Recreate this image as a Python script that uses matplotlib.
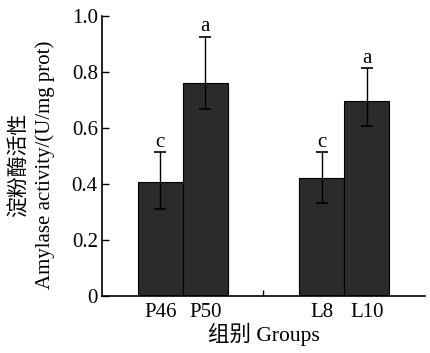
import matplotlib
matplotlib.use("Agg")
import matplotlib.pyplot as plt

groups = ["P46", "P50", "L8", "L10"]
values = [0.408, 0.762, 0.420, 0.696]
err_low = [0.098, 0.094, 0.087, 0.089]
err_high = [0.105, 0.164, 0.093, 0.117]
letters = ["c", "a", "c", "a"]
positions = [0.72, 1.28, 2.72, 3.28]

plt.rcParams["font.family"] = ["Liberation Serif", "Noto Sans CJK SC"]
plt.rcParams["font.size"] = 15

fig = plt.figure(figsize=(4.31, 3.53), dpi=100)
ax = fig.add_axes([0.2367, 0.1615, 0.7493, 0.7932])

ax.bar(positions, values, width=0.56, color="#2b2b2b", edgecolor="black", linewidth=0.8)
ax.errorbar(positions, values, yerr=[err_low, err_high], fmt="none",
            ecolor="black", elinewidth=1.0, capsize=4.5, capthick=1.2)
for x, v, eh, t in zip(positions, values, err_high, letters):
    ax.text(x, v + eh + 0.003, t, ha="center", va="bottom", fontsize=15)

ax.set_xlim(0, 4)
ax.set_ylim(0, 1.0)
ax.set_yticks([0, 0.2, 0.4, 0.6, 0.8, 1.0])
ax.set_yticklabels(["0", "0.2", "0.4", "0.6", "0.8", "1.0"], fontsize=15)
ax.set_xticks(positions)
ax.set_xticklabels(groups, fontsize=15)
ax.set_xticks([2], minor=True)
ax.tick_params(axis="x", which="major", length=0, pad=5)
ax.tick_params(axis="x", which="minor", direction="in", length=4, width=1)
ax.tick_params(axis="y", direction="in", length=5, width=1, pad=3)

for s in ["top", "right"]:
    ax.spines[s].set_visible(False)
for s in ["left", "bottom"]:
    ax.spines[s].set_linewidth(1.2)

ax.set_xlabel("组别 Groups", fontsize=15.5, labelpad=1)
ax.set_ylabel("淀粉酶活性\nAmylase activity/(U/mg prot)", fontsize=15, labelpad=12,
              linespacing=1.4)
ax.yaxis.label.set_y(0.47)

fig.savefig("out.png", dpi=100)
